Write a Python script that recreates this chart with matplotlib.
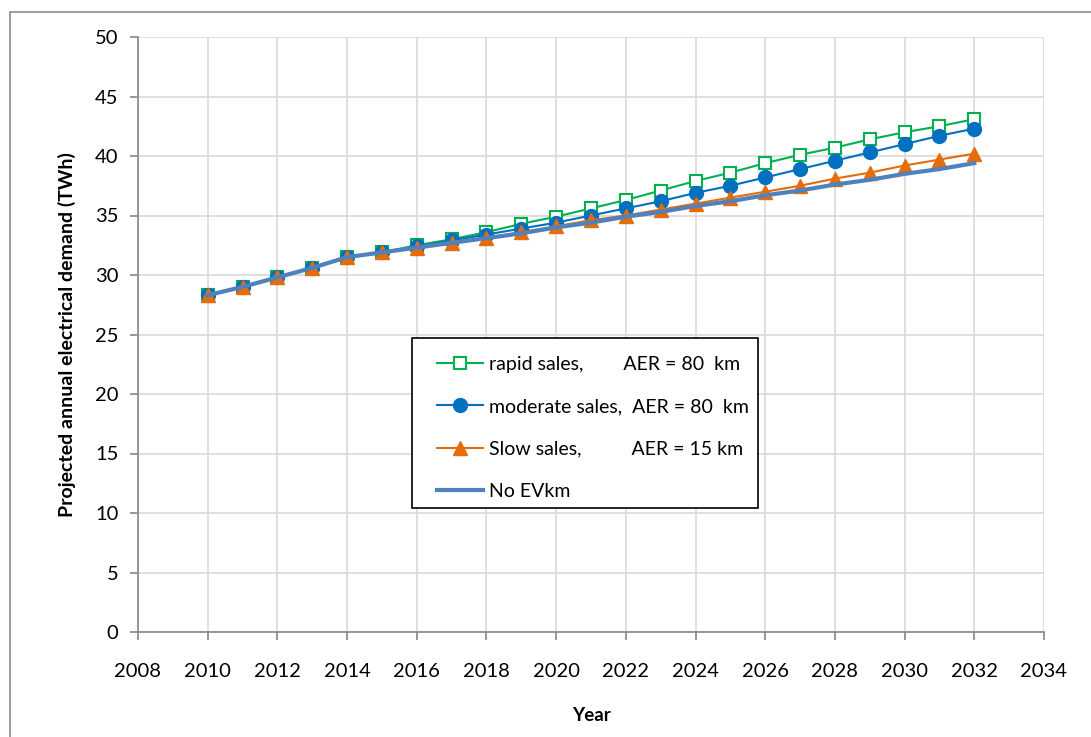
import matplotlib
matplotlib.use('Agg')
import matplotlib.pyplot as plt
from matplotlib.patches import Rectangle

plt.rcParams['font.family'] = ['Lato', 'DejaVu Sans']

years = list(range(2010, 2033))
rapid = [28.3, 29.0, 29.8, 30.6, 31.5, 31.9, 32.5, 33.0, 33.6, 34.3, 34.9, 35.6, 36.3,
         37.1, 37.9, 38.6, 39.4, 40.1, 40.7, 41.4, 42.0, 42.5, 43.1]
moderate = [28.3, 29.0, 29.8, 30.6, 31.5, 31.9, 32.4, 32.9, 33.4, 33.9, 34.4, 35.0, 35.6,
            36.2, 36.9, 37.5, 38.2, 38.9, 39.6, 40.3, 41.0, 41.7, 42.3]
slow = [28.3, 29.0, 29.8, 30.6, 31.5, 31.9, 32.3, 32.7, 33.1, 33.6, 34.1, 34.6, 35.0,
        35.5, 36.0, 36.5, 37.0, 37.5, 38.1, 38.6, 39.2, 39.7, 40.2]
no_ev = [28.3, 29.0, 29.8, 30.6, 31.5, 31.9, 32.3, 32.7, 33.1, 33.5, 34.0, 34.4, 34.9,
         35.3, 35.8, 36.2, 36.7, 37.1, 37.6, 38.0, 38.5, 38.9, 39.4]

labels = ['rapid sales,        AER = 80  km',
          'moderate sales,  AER = 80  km',
          'Slow sales,          AER = 15 km',
          'No EVkm']

fig = plt.figure(figsize=(10.91, 7.37), dpi=100)
# outer chart-area border (runs off the right and bottom edges)
fig.patches.append(Rectangle((10 / 1091, -0.1), 1.2, (737 - 12) / 737 + 0.1,
                             transform=fig.transFigure, fill=False,
                             edgecolor='#8c8c8c', linewidth=1.2))
ax = fig.add_axes([138 / 1091, 105 / 737, 906 / 1091, 595 / 737])

ax.plot(years, rapid, color='#00b050', lw=1.5, marker='s', ms=9,
        mfc='white', mec='#00b050', mew=1.5, label=labels[0])
ax.plot(years, moderate, color='#0070c0', lw=1.5, marker='o', ms=10,
        mfc='#0070c0', mec='#0070c0', label=labels[1])
ax.plot(years, slow, color='#e46c0a', lw=1.5, marker='^', ms=10,
        mfc='#e46c0a', mec='#e46c0a', label=labels[2])
ax.plot(years, no_ev, color='#4f81bd', lw=3, label=labels[3])

ax.set_xlim(2008, 2034)
ax.set_ylim(0, 50)
ax.set_xticks(range(2008, 2035, 2))
ax.set_yticks(range(0, 51, 5))
ax.grid(True, color='#d9d9d9', lw=1.2)
ax.set_axisbelow(True)
for s in ['top', 'right']:
    ax.spines[s].set_visible(False)
for s in ['left', 'bottom']:
    ax.spines[s].set_color('#868686')
    ax.spines[s].set_linewidth(1.2)
ax.tick_params(colors='#868686', labelcolor='black', labelsize=14.5,
               length=6, width=1.2, direction='out')
ax.tick_params(axis='x', pad=16)
ax.tick_params(axis='y', pad=8)

ax.set_xlabel('Year', fontsize=13.5, fontweight='bold', labelpad=20)
ax.set_ylabel('Projected annual electrical demand (TWh)', fontsize=14,
              fontweight='bold', labelpad=14)

# legend box
ax.add_patch(Rectangle((0.3024, 0.2084), 0.3819, 0.2857, transform=ax.transAxes,
                       facecolor='white', edgecolor='black', lw=1.2,
                       zorder=4, clip_on=False))
leg = ax.legend(loc='upper left', bbox_to_anchor=(0.330, 0.4639), fontsize=14,
                frameon=False, labelspacing=1.3, handlelength=2.37,
                borderpad=0, handletextpad=0.3, borderaxespad=0)
leg.set_zorder(5)

fig.savefig('out.png', dpi=100)
